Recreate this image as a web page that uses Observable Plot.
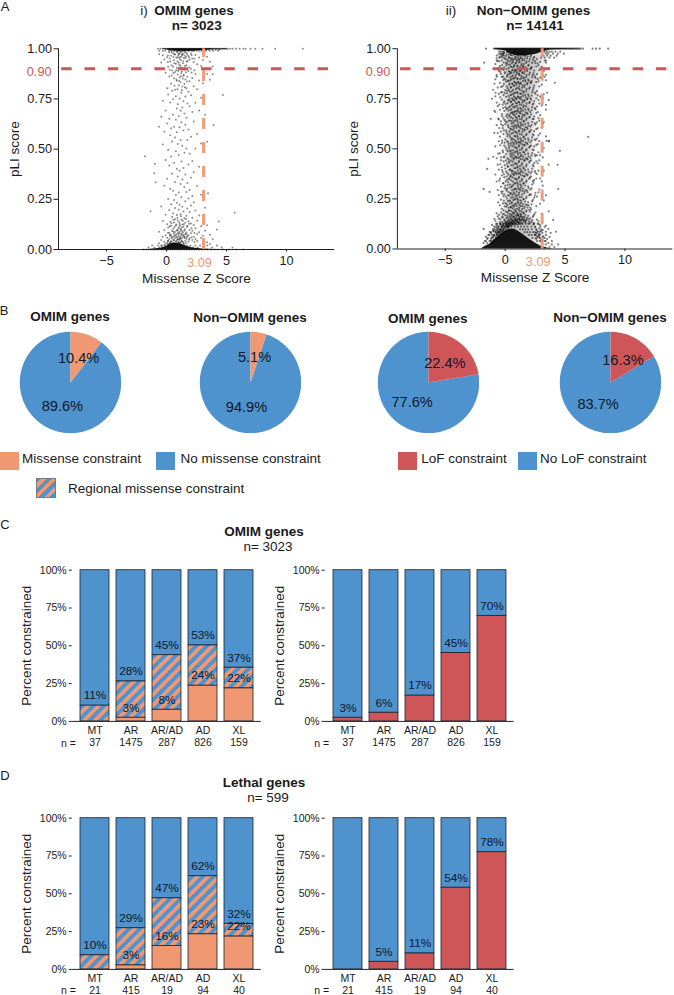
<!DOCTYPE html>
<html><head><meta charset="utf-8">
<script src="https://cdn.jsdelivr.net/npm/d3@7"></script>
<script src="https://cdn.jsdelivr.net/npm/@observablehq/plot@0.6"></script>
<style>
html,body{margin:0;padding:0;background:#fff}
#page{position:relative;width:674px;height:995px;overflow:hidden;font-family:"Liberation Sans",Arial,sans-serif;color:#1a1a1a}
.t{position:absolute;white-space:nowrap;line-height:1;transform:translate(-50%,-50%)}
.s{position:absolute;box-sizing:border-box}
.p{position:absolute}
svg{display:block;background:transparent}
</style></head><body><div id="page"></div>
<script>
// ---------- values ----------
const blue="#4E92CE", orange="#EF9871", red="#CE5558";
const pLICut=0.90, zCut=3.09;

// Panel A: rows of [pLI, missense z, missense z, ...]
const omimRows=[
[1,-.7,-.5,-.3,-.1,.1,.2,.3,.4,.5,.6,.7,.8,.9,1,1.1,1.2,1.3,1.4,1.5,1.6,1.7,1.8,1.9,2,2.1,2.2,2.3,2.4,2.5,2.6,2.7,2.8,2.9,3,3.1,3.2,3.3,3.4,3.5,3.6,3.7,3.8,3.9,4,4.1,4.2,4.3,4.4,4.5,4.6,4.7,4.8,4.9,5,5.1,5.3,5.5,5.8,6.1,6.4,6.6,7,7.4,8,9.06,11.36],
[.995,.3,.5,.7,.9,1.1,1.3,1.5,1.7,1.9,2.1,2.3,2.5,2.7,2.9,3.1,3.3,3.5,3.8,4.1,4.4],
[.99,-.6,-.3,-.1,.2,.4,.6,.7,.9,1,1.1,1.3,1.4,1.5,1.6,1.8,1.9,2.1,2.2,2.3,2.5,2.7,2.9,3.1,3.3,3.6,3.9,4.3],
[.77,4.7],[.62,3.93],[.465,-1.8],[.427,-.97],[.38,-1.02],[.335,-.91],[.28,3.46],[.19,-1.33],[.183,5.68],[.14,4.35],[.1,4.2],
[.02,-1.2,-.7,-.4,-.1,.1,.2,.4,.5,.7,.9,1.1,1.3,1.5,1.7,2,2.4,2.8,3.4,4.2],[.01,-1.5,-1,-.6,-.3,0,.2,.3,.5,.6,.8,1,1.2,1.4,1.6,1.9,2.2,2.6,3.1,3.8,4.6,5.5],
[0,-1.9,-1.7,-1.5,-1.3,-1.1,-.9,-.7,-.5,-.3,-.1,.1,.3,.5,.7,.9,1.1,1.3,1.5,1.7,1.9,2.1,2.3,2.5,2.7,2.9,3.1,3.4,3.7,4,4.3,4.7,5.2,5.8,6.4]];

// columns of [missense z, pLI in thousandths, ...]
const omimCols=[
[-.62,973,612,88,31],[-.44,932,661,214,47,19],[-.31,968,741,523,142,63],[-.18,947,587,318,97,38,21],[-.07,881,693,446,173,71,29],
[.06,958,804,628,352,126,58,34],[.14,911,772,497,251,109,44],[.23,983,862,651,418,197,83,52,27],[.31,937,733,569,302,138,67,36],
[.38,965,826,604,463,226,118,74,41],[.47,892,791,538,377,163,92,55,24],[.55,978,911,749,672,293,181,104,63,33],[.63,943,853,612,431,247,134,78,46],
[.71,971,884,796,558,336,207,151,87,57,28],[.78,926,763,647,489,271,119,69,39],[.86,987,906,841,703,584,402,233,172,96,61,31],[.94,958,872,724,526,364,145,82,49],
[1.02,975,931,818,664,471,284,198,111,73,37],[1.09,949,857,752,609,392,223,127,88,54,26],[1.17,982,915,833,691,545,326,176,102,66,35],[1.24,961,878,781,634,438,261,148,79,43],
[1.32,972,904,812,708,517,349,213,124,91,58],[1.41,938,866,739,593,406,189,113,71,32],[1.49,967,896,825,678,482,312,156,94,62],[1.57,953,847,762,621,374,241,133,76,44],
[1.66,979,918,803,656,503,287,168,85,53],[1.74,941,861,727,546,331,204,117,67],[1.83,964,889,786,598,423,254,141,72,39],[1.92,946,838,714,477,296,187,98,56],
[2.04,976,901,769,562,358,219,129,81],[2.15,952,854,685,441,267,158,93,47],[2.27,934,813,638,385,236,122,64],[2.41,969,875,731,503,194,106,52],
[2.56,923,798,576,317,143,77,42],[2.72,957,842,693,412,169,86],[2.88,914,756,528,273,116,59],[3.04,945,828,384,137,68],[3.21,902,671,208,93],[3.38,961,874,537,121,36],[3.62,935,846,74,28],[3.85,912,873,51],
[.12,967,934,84,42,26],[.27,952,896,116,73,31],[.42,984,918,867,131,61,38],[.58,961,879,148,89,47,23],[.66,973,928,816,112,69,29],[.82,955,893,847,124,76,43],[.91,982,937,798,157,93,52,27],[.98,966,889,104,64,36],[1.06,974,921,841,136,81,48],[1.13,958,906,118,59,33],[1.21,986,943,863,166,97,54],[1.28,969,887,793,109,72,41],[1.36,977,928,852,143,84,37],[1.45,954,871,126,66,28],[1.53,983,914,808,101,57],[1.62,961,883,152,78,34],[1.71,972,936,837,114,63],[1.88,957,907,128,49],[2.09,968,882,107,61],[2.33,951,893,82,37]];

const nonOmimRows=[
[1,-1.6,-.9,-.8,-.7,-.6,-.5,-.4,-.3,-.2,-.1,0,.1,.2,.3,.4,.5,.6,.7,.8,.9,1,1.1,1.2,1.3,1.4,1.5,1.6,1.7,1.8,1.9,2,2.1,2.2,2.3,2.4,2.5,2.6,2.7,2.8,2.9,3,3.1,3.2,3.3,3.4,3.5,3.6,3.7,3.8,3.9,4,4.1,4.2,4.3,4.4,4.5,4.6,4.7,4.8,4.9,5,5.1,5.2,5.3,5.4,5.5,5.6,5.7,5.8,5.9,6,6.1,6.2,6.3,6.5,7.3,7.6,7.9,8.6],
[.985,-.5,-.2,-.1,3.3,3.5,3.7,3.9,4.2,4.6],[.975,-.4,-.3,-.15,3.4,3.6,4,4.4,4.9],[.965,-.7,-.3,-.1,3.2,3.5,3.8,4.3],[.955,-.5,-.2,3,3.3,3.7,4.1],
[.94,-.7,3.3],[.93,-1.75,3.4],[.9,-1,3.5],[.87,3.4],[.86,-.7,3.3],[.83,4.15],[.825,-.9],[.795,-1],[.78,-.8,3.5],[.75,-1.1],[.72,3.4],
[.69,-.9],[.65,-1.2],[.58,-.9],[.56,6.93],[.54,3.68,3.46],[.49,4.57],[.46,-1],[.45,-1.4],[.42,4.38],[.4,-1.5],[.3,-1.8,4.43],[.285,-1.3],[.15,-.9],[.145,4],
[.125,-.75,-.42,-.13,.09,.33,.61,.87,1.14,1.42,1.71,2.03,2.38,2.77],[.112,-.93,-.55,-.27,.02,.26,.52,.79,1.06,1.33,1.58,1.86,2.19,2.52,2.94],
[.098,-1.03,-.68,-.37,1.24,1.47,1.69,1.93,2.24,2.61,3.02],[.084,-1.18,-.81,-.49,1.62,1.84,2.07,2.33,2.71],[.07,-1.32,-.97,-.66,1.98,2.21,2.47,2.83],[.055,-1.45,-1.08,-.79,2.28,2.56,2.91,3.3],[.04,-1.6,-1.24,2.66,2.97,3.38],
[.12,-1.1,2.9],[.11,3.3],[.1,-1.8,-.9,3.6],[.09,-1,3],[.086,4.24,-1.3,2.9,3.4],[.08,-1.2,-.7,2.6,3.1,3.8],[.07,-1.4,-.9,2.5,2.9,3.4],[.06,-1.6,-1,2.7,3.2,3.7],[.05,-1.5,-1.2,2.6,3,3.5],[.04,-1.7,-1.3,2.9,3.3,3.9],[.03,-1.8,-1.5,3.1,3.6],[.023,4.43,3.4,3.9],[.01,3.7,4.1]];

const nonOmimCols=[
[-.82,923,847,762,684,512,372,141,93],[-.71,951,868,731,618,453,337,178,118,72],[-.62,938,806,713,579,421,294,163,104,83],[-.53,972,889,774,647,538,396,269,152,91],
[-.44,957,913,829,695,561,478,352,218,133,86,68],[-.36,986,874,782,637,586,443,311,246,127,97,74],[-.28,942,859,746,674,529,408,367,201,159,108,79],[-.21,967,896,813,721,603,491,384,287,172,123,88],
[-.14,931,844,768,652,574,437,329,263,194,116,94,81],[-.07,979,906,851,737,689,516,461,358,273,147,103,86],[.01,948,883,792,708,623,548,402,316,229,168,126,92],[.08,963,917,836,759,664,591,473,387,298,211,137,109,97],
[.15,984,927,861,777,702,633,539,426,346,252,186,131,112],[.21,939,872,803,728,656,572,487,413,319,238,157,118,104],[.28,971,903,841,763,691,608,524,449,371,284,206,143,116,108],[.34,954,886,819,741,669,586,502,431,353,267,193,128,113],
[.41,976,921,857,784,712,641,559,476,398,322,241,174,136,119],[.47,943,878,806,733,678,597,518,442,365,276,209,151,124],[.53,968,909,848,771,699,627,546,468,389,308,232,165,132,118],[.59,951,892,826,752,683,613,532,457,376,293,217,146,127],
[.65,981,933,866,794,724,651,578,493,418,337,258,183,141,123],[.71,946,881,814,746,672,602,521,447,369,281,212,161,129],[.77,973,912,853,779,707,638,564,482,404,328,247,177,138,121],[.83,958,894,831,756,687,619,541,462,382,301,224,154,128],
[.89,987,928,869,798,729,658,583,507,428,349,263,191,146,126],[.95,944,884,821,748,676,605,526,453,373,286,215,162,133],[1.01,969,916,851,783,714,643,566,488,411,331,252,181,142,122],[1.07,953,897,834,761,692,622,548,472,392,313,236,169,135],
[1.13,982,931,872,801,733,662,587,511,434,354,271,197,149,129],[1.19,947,887,824,754,681,609,534,458,379,298,221,158,137],[1.25,966,908,847,776,703,631,553,479,401,323,243,175,144,125],[1.31,956,893,829,758,688,616,538,464,385,306,228,163,131],
[1.38,978,924,863,791,719,647,571,497,419,341,259,187,147],[1.45,949,882,817,743,671,598,522,448,367,289,214,156,128],[1.52,971,913,852,781,708,636,558,484,406,326,249,179,139],[1.59,941,876,809,737,666,592,517,441,362,278,203,148],
[1.67,964,904,843,769,697,624,549,473,394,317,237,171,133],[1.75,985,929,858,787,713,644,569,492,413,334,254,188,143],[1.83,952,889,823,747,679,606,529,451,372,291,219,155],[1.92,974,915,846,772,701,628,551,476,397,312,233,166,127],
[2.01,937,871,801,729,657,583,507,432,351,268,196,139],[2.11,961,899,832,753,684,611,533,455,378,296,207,152],[2.21,976,908,838,766,694,619,542,467,386,303,223,134],[2.31,943,869,793,722,648,573,496,419,339,245,161],
[2.42,959,891,816,739,661,588,512,429,344,256,173,129],[2.53,928,854,775,698,621,543,463,381,279,182],[2.65,948,873,788,711,632,551,469,374,261,147],[2.78,917,837,744,653,567,483,391,283,138],
[2.92,934,856,761,668,576,468,352,226],[3.06,909,821,717,607,494,338,176],[3.22,888,772,634,503,391,243],[3.41,941,842,696,562,268,117],[3.63,899,743,537,421,188],
[-1.12,72,58,41,29],[-.95,88,66,47,33],[-.77,109,84,62,45],[-.66,127,93,71,54],[-.58,902,651,476,233,112,87,73,59],[-.49,937,721,604,341,171,101,82,66],[-.41,884,757,518,423,148,122,96,78],[-.33,961,809,622,457,286,183,114,91],
[-.25,918,783,663,541,394,276,136,107,89],[-.18,974,861,704,616,483,327,228,158,118,97],[-.11,896,824,731,592,458,373,241,176,129,104],[-.04,953,877,778,643,531,419,304,213,142,113],[.05,929,846,724,636,507,441,338,262,187,134,118],
[.12,971,898,812,697,581,496,362,291,224,154,124],[.18,947,866,789,672,563,452,379,302,217,166,131,114],[.24,983,921,838,743,617,534,411,333,268,178,139,121],[.31,959,887,794,706,641,512,437,348,241,192,147,127],
[.37,936,874,827,751,662,569,489,394,307,226,163,133],[.44,968,911,843,768,694,601,528,463,361,279,208,156,129],[.5,952,883,808,736,657,576,491,418,343,256,189,144],[.56,979,929,862,787,718,639,553,479,392,314,231,172,137],
[.62,941,895,823,744,676,594,513,436,358,271,203,157,131],[.68,966,907,851,773,709,628,547,471,387,319,244,178,142],[.74,984,918,836,762,684,611,529,453,374,296,218,163,136],[.8,949,889,816,739,667,587,508,426,352,274,197,149],
[.86,971,926,858,781,713,642,562,486,403,328,251,186,143],[.92,957,893,829,752,689,613,536,459,381,299,227,168,139],[.98,938,878,804,727,654,579,501,423,346,267,201,151],[1.04,976,913,849,777,702,634,558,481,406,324,246,174,146],
[1.1,963,901,831,759,686,615,532,456,377,302,229,167,134],[1.16,944,876,811,734,663,591,517,439,359,281,206,153],[1.22,988,934,867,796,722,649,574,494,414,337,259,189,148],[1.28,955,891,826,749,677,603,527,449,371,293,214,164],
[1.35,972,917,853,774,699,625,546,469,391,316,238,172,141],[1.42,942,879,806,731,658,585,506,428,349,272,199,152],[1.49,965,909,839,764,691,618,539,461,383,301,226,161],[1.56,983,923,856,786,716,638,561,483,402,329,248,182,144],
[1.63,951,886,818,742,669,596,519,443,364,287,211,159],[1.71,969,906,835,757,682,608,531,452,376,294,222,137],[1.79,936,869,798,726,652,574,498,421,341,262,192,146],[1.87,961,898,827,751,674,599,523,447,368,283,207],
[1.96,978,919,841,763,692,616,541,462,384,304,218,151],[2.06,948,881,807,733,659,586,511,438,356,273,187,131],[2.16,967,903,829,746,671,593,516,443,362,271,198],[2.26,929,858,782,708,634,557,479,401,322,238,143],
[2.37,953,877,804,726,649,568,493,413,331,167,122],[2.48,938,862,781,703,627,548,471,389,267,108,84],[2.6,911,833,752,679,598,519,437,352,214,96,72],[2.72,926,849,767,684,603,524,428,126,88,63],[2.85,893,812,726,641,539,442,297,103,76,58],[3.14,867,752,628,457,316,94,63,44]];

// dark masses where points saturate: [z, pLI]
const omimFloor=[[-1.5,0],[-.5,.006],[0,.015],[.3,.028],[.7,.032],[1.2,.028],[1.6,.018],[2.2,.008],[3,.003],[4,0]];
const omimCeil=[[-.3,.998],[.3,.992],[1,.988],[2,.988],[3,.992],[4,.998],[5,.998]];
const nonOmimFloor=[[-2,0],[-1.7,.012],[-1.3,.024],[-1,.04],[-.6,.06],[-.2,.08],[.2,.095],[.5,.1],[.8,.098],[1.1,.088],[1.5,.072],[2,.05],[2.5,.03],[3,.014],[3.6,.004],[4,0]];
const nonOmimCeil=[[-1,.998],[0,.99],[.4,.975],[1,.965],[1.8,.965],[2.6,.972],[3.2,.985],[3.8,.995],[6,.998]];

// how wide the dense part of the non-OMIM cloud looks: [pLI, z left, z right]
const nonOmimDense=[[.98,-.3,3.2],[.9,-.1,2.9],[.8,0,2.6],[.7,.1,2.4],[.55,.15,2.3],[.4,.2,2.1],[.3,.25,1.8],[.22,.2,1.7],[.15,-.1,2.1],[.1,-.6,2.6],[.03,-1.2,3.2]];

// Panel B: constrained share of each pie
const pieMissenseOmim=10.4, pieMissenseNon=5.1, pieLofOmim=22.4, pieLofNon=16.3;

// Panels C, D
const modes=["MT","AR","AR/AD","AD","XL"];
const omimN=[37,1475,287,826,159], lethalN=[21,415,19,94,40];
const omimMissense=[0,2.4,7.7,23.6,21.8], omimRegional=[10.4,26.4,43.8,50.2,35.5];
const omimMissenseLabel=[null,"3%","8%","24%","22%"], omimRegionalLabel=["11%","28%","45%","53%","37%"];
const omimLof=[2.4,5.7,17,45.2,69.8], omimLofLabel=["3%","6%","17%","45%","70%"];
const lethalMissense=[0,2.6,15.5,23.2,21.7], lethalRegional=[9.3,27.2,47,61.6,30];
const lethalMissenseLabel=[null,"3%","16%","23%","22%"], lethalRegionalLabel=["10%","29%","47%","62%","32%"];
const lethalLof=[0,5,10.5,54,77.5], lethalLofLabel=[null,"5%","11%","54%","78%"];

// ---------- helpers ----------
const page=document.getElementById("page");
const ink="#1a1a1a";
function text(s,x,y,o={}){const d=document.createElement("div");d.className="t";d.textContent=s;
 d.style.left=x+"px";d.style.top=y+"px";d.style.fontSize=(o.size||13.5)+"px";
 if(o.bold)d.style.fontWeight="bold";
 if(o.left)d.style.transform="translate(0,-50%)";page.appendChild(d);}
function swatch(x,y,w,h,bg,extra){const d=document.createElement("div");d.className="s";
 Object.assign(d.style,{left:x+"px",top:y+"px",width:w+"px",height:h+"px",background:bg},extra||{});page.appendChild(d);}
function place(svg,x,y){const w=document.createElement("div");w.className="p";w.style.left=x+"px";w.style.top=y+"px";w.appendChild(svg);page.appendChild(w);}
const font={fontFamily:'"Liberation Sans",Arial,sans-serif',color:ink,background:"transparent"};

function scatter(rows,cols,floor,ceil,dense,denseOp,r,op){
 const pts=[...rows.flatMap(([y,...xs])=>xs.map(x=>({x,y}))),...cols.flatMap(([x,...ys])=>ys.map(y=>({x,y:y/1000})))];
 const svg=Plot.plot({width:336,height:290,marginLeft:58,marginRight:2,marginTop:48.3,marginBottom:41,
  style:{...font,fontSize:"12.7px"},
  x:{domain:[-9,14]},y:{domain:[0,1]},
  marks:[
   ...dense.map(band=>Plot.areaX(band,{y:d=>d[0],x1:d=>d[1],x2:d=>d[2],fill:"#000",fillOpacity:denseOp,curve:"basis"})),
   Plot.areaY(floor,{x:d=>d[0],y1:0,y2:d=>d[1],fill:"#000",fillOpacity:.9}),
   Plot.areaY(ceil,{x:d=>d[0],y1:d=>d[1],y2:1,fill:"#000",fillOpacity:.9}),
   Plot.dot(pts,{x:"x",y:"y",r,fill:"#000",stroke:"none",fillOpacity:op}),
   Plot.ruleY([0],{x1:-9,x2:14,stroke:"#222",strokeWidth:1}),
   Plot.ruleX([-9],{y1:0,y2:1,stroke:"#222",strokeWidth:1}),
   Plot.axisY({ticks:[0,.25,.5,.75,1],tickFormat:d3.format(".2f"),tickSize:4.5,tickPadding:2,label:null,fontSize:12.7,stroke:"#222"}),
   Plot.axisX({ticks:[-5,0,5,10],tickFormat:d3.format("d"),tickSize:2.5,tickPadding:4,label:null,fontSize:12.7,stroke:"#222"}),
   Plot.text(["pLI score"],{frameAnchor:"left",textAnchor:"middle",rotate:-90,dx:-44,fontSize:13.6}),
   Plot.text(["Missense Z Score"],{frameAnchor:"bottom",lineAnchor:"middle",dy:28.7,fontSize:13.6}),
   Plot.ruleY([pLICut],{x1:13.5,x2:-9.4,stroke:red,strokeWidth:3,strokeDasharray:"10.5,12.8"}),
   Plot.ruleX([zCut],{y1:0,y2:1,stroke:orange,strokeWidth:3,strokeDasharray:"11,13",strokeOpacity:.95}),
   Plot.text([pLICut],{x:-9,y:d=>d,dx:-7,dy:3,text:d=>d3.format(".2f")(d),textAnchor:"end",fill:red,fontSize:12.7}),
   Plot.text([zCut],{x:d=>d,y:0,dx:-4,dy:13,text:d=>String(d),fill:orange,fontSize:12.7})
  ]});
 const c=svg.querySelector("circle"); if(c) c.parentNode.style.filter="blur(0.45px)";
 svg.querySelectorAll('g[aria-label="area"]').forEach((g,i)=>{ g.style.filter=i<dense.length?"blur(4px)":"blur(0.6px)"; });
 return svg;
}

function pie(share,color){
 const sector=(from,to,fill)=>{const pts=[{x:0,y:0,fill}];
  for(let a=from;;a=Math.min(a+0.5,to)){const t=a/100*2*Math.PI;pts.push({x:Math.sin(t),y:Math.cos(t),fill});if(a>=to)break;}
  pts.push({x:0,y:0,fill});return pts;};
 const lab=(from,to)=>{const t=(from+to)/2/100*2*Math.PI;return {x:.5*Math.sin(t),y:.5*Math.cos(t),s:d3.format(".1f")(to-from)+"%"};};
 return Plot.plot({width:102,height:102,marginTop:.3,marginLeft:.3,marginRight:.3,marginBottom:.3,style:{...font,fontSize:"14.6px"},
  x:{domain:[-1,1],axis:null},y:{domain:[-1,1],axis:null},
  marks:[
   Plot.line(sector(share,100,blue),{x:"x",y:"y",fill:blue,stroke:"none"}),
   Plot.line(sector(0,share,color),{x:"x",y:"y",fill:color,stroke:"none"}),
   Plot.text([lab(0,share),lab(share,100)],{x:"x",y:"y",text:"s",fill:"#10182a",fontSize:14.6})
  ]});
}

function bars(id,segments,labels,Ns){
 return Plot.plot({width:262,height:190,marginLeft:71.7,marginRight:1.3,marginTop:9.7,marginBottom:190-9.7-151.2,
  style:{...font,fontSize:"10.5px"},
  x:{domain:modes,padding:.2,align:.5},y:{domain:[0,100]},
  marks:[
   ()=>{const d=d3.create("svg:defs");const p=d.append("pattern").attr("id",id).attr("patternUnits","userSpaceOnUse")
     .attr("width",7.6).attr("height",7.6).attr("patternTransform","rotate(45)");
     p.append("rect").attr("width",7.6).attr("height",7.6).attr("fill",orange);
     p.append("rect").attr("width",3.8).attr("height",7.6).attr("fill",blue);return d.node();},
   Plot.barY(segments,{x:"m",y1:"a",y2:"b",fill:"fill",stroke:"#1c2430",strokeWidth:.8}),
   Plot.ruleY([0],{stroke:"#222",strokeWidth:1}),
   Plot.axisY({ticks:[0,25,50,75,100],tickFormat:d=>d+"%",tickSize:3,tickPadding:2.5,label:null,fontSize:10.5,stroke:"#222"}),
   Plot.axisX({tickSize:0,tickPadding:5,label:null,lineHeight:1.08,fontSize:10.5,tickFormat:m=>m+"\n"+Ns[modes.indexOf(m)]}),
   Plot.text(["Percent constrained"],{frameAnchor:"left",textAnchor:"middle",rotate:-90,dx:-45.7,fontSize:13.5}),
   Plot.text(labels,{x:"m",y:"y",text:"s",dy:-10,fontSize:11.8,fill:"#10182a"})
  ]});
}
function stacked(id,mis,reg,misL,regL,Ns){
 const seg=modes.flatMap((m,i)=>[{m,a:reg[i],b:100,fill:blue},{m,a:mis[i],b:reg[i],fill:`url(#${id})`},...(mis[i]>0?[{m,a:0,b:mis[i],fill:orange}]:[])]);
 const lab=modes.flatMap((m,i)=>[{m,y:reg[i],s:regL[i]},...(misL[i]?[{m,y:mis[i],s:misL[i]}]:[])]);
 return bars(id,seg,lab,Ns);
}
function lof(id,v,L,Ns){
 const seg=modes.flatMap((m,i)=>[{m,a:v[i],b:100,fill:blue},...(v[i]>0?[{m,a:0,b:v[i],fill:red}]:[])]);
 const lab=modes.flatMap((m,i)=>L[i]?[{m,y:v[i],s:L[i]}]:[]);
 return bars(id,seg,lab,Ns);
}

// ---------- page ----------
text("A",5,6,{size:13});text("B",4,310,{size:13});text("C",5,524,{size:13});text("D",5,775,{size:13});

text("i)",144,11);text("OMIM genes",194,11,{bold:true});text("n= 3023",196.7,26,{bold:true});
text("ii)",451,11);text("Non−OMIM genes",533.5,11,{bold:true});text("n= 14141",535,26,{bold:true});
place(scatter(omimRows,omimCols,omimFloor,omimCeil,[],0,1,.45),0,0);
place(scatter(nonOmimRows,nonOmimCols,nonOmimFloor,nonOmimCeil,[nonOmimDense],.22,1.1,.5),338.7,0);

text("OMIM genes",70,317,{bold:true});text("Non−OMIM genes",250,317.5,{bold:true});
text("OMIM genes",427.7,318.5,{bold:true});text("Non−OMIM genes",610,317.5,{bold:true});
place(pie(pieMissenseOmim,orange),19,331);place(pie(pieMissenseNon,orange),199.3,331);
place(pie(pieLofOmim,red),377,331);place(pie(pieLofNon,red),559.3,331);

swatch(0,451.7,19,18.5,orange);text("Missense constraint",22,459,{left:true});
swatch(156,451.7,19,18.5,blue);text("No missense constraint",180.5,459,{left:true});
swatch(36,477.7,20,20,`repeating-linear-gradient(-45deg,${blue} 0 3.8px,${orange} 3.8px 7.6px)`,{border:"1px solid #6d7d90"});
text("Regional missense constraint",68,489,{left:true});
swatch(398.3,451.7,19,18.5,red);text("LoF constraint",421.3,459,{left:true});
swatch(518,451.7,19,18.5,blue);text("No LoF constraint",540,459,{left:true});

text("OMIM genes",264,531.5,{bold:true});text("n= 3023",268,547);
place(stacked("stripeC",omimMissense,omimRegional,omimMissenseLabel,omimRegionalLabel,omimN),0,560);
place(lof("stripeC2",omimLof,omimLofLabel,omimN),253.3,560);
text("n =",68.5,743,{size:10.5});text("n =",321.8,743,{size:10.5});

text("Lethal genes",264,782.5,{bold:true});text("n= 599",268,798);
place(stacked("stripeD",lethalMissense,lethalRegional,lethalMissenseLabel,lethalRegionalLabel,lethalN),0,807.6);
place(lof("stripeD2",lethalLof,lethalLofLabel,lethalN),253.3,807.6);
text("n =",68.5,990,{size:10.5});text("n =",321.8,990,{size:10.5});
</script></body></html>
